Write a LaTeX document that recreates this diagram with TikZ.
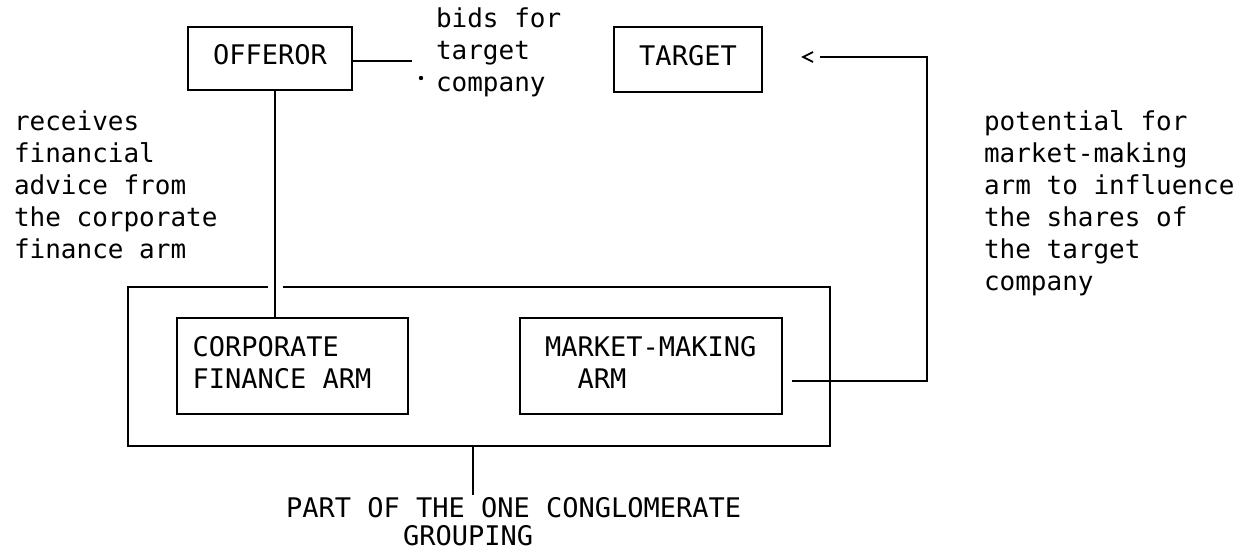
\documentclass[tikz,border=0pt]{standalone}
\usepackage{fontspec}
\newfontfamily\dotmono{DejaVu Sans Mono}[WordSpace={1,0,0}]
\begin{document}
\begin{tikzpicture}[x=1pt,y=-1pt,line width=2pt,
  lbl/.style={font=\dotmono\fontsize{26}{32}\selectfont},
  caps/.style={font=\dotmono\fontsize{27}{32}\selectfont},
  box/.style={caps,draw,inner sep=0pt,align=flush left,execute at begin node=\strut,execute at end node=\strut},
  frame/.style={draw,inner sep=0pt},
  blocktext/.style={lbl,inner sep=0pt,align=left,anchor=north west,execute at begin node=\strut}]
\useasboundingbox[fill=white] (0,0) rectangle (1249,551);

% boxes
\node[box,minimum width=164pt,minimum height=63pt] (offeror) at (270,58.5) {OFFEROR};
\node[box,minimum width=148pt,minimum height=65pt] (target) at (688,59.5) {TARGET};
\node[frame,minimum width=702pt,minimum height=159pt] (group) at (479,366.5) {};
\node[box,text width=200pt,minimum width=231pt,minimum height=96pt] (corp) at (292.5,366) {CORPORATE\\FINANCE ARM};
\node[box,text width=212pt,minimum width=262pt,minimum height=96pt] (mm) at (651,366) {MARKET-MAKING\\\hspace*{32.5pt}ARM};

% free texts
\node[blocktext] (bids) at (435,7) {bids for\\target\\company};
\node[blocktext] (advice) at (13,109.5) {receives\\financial\\advice from\\the corporate\\finance arm};
\node[blocktext] (potential) at (983,109.5) {potential for\\market-making\\arm to influence\\the shares of\\the target\\company};
\node[blocktext,font=\dotmono\fontsize{27}{28}\selectfont] (part) at (285,496.4) {PART OF THE ONE CONGLOMERATE\\\hspace*{117pt}GROUPING};

% coordinates
\coordinate (bidsEnd) at (412,61);
\coordinate (bidsDot) at (421,78);
\coordinate (offX) at (275,0);
\coordinate (mmOut) at (792,381);
\coordinate (rail) at (927,0);
\coordinate (arrEnd) at (820,57);
\coordinate (arrTip) at (803,57);
\coordinate (partTop) at (473,495);

% offeror -> bids
\draw (offeror.east |- bidsEnd) -- (bidsEnd);
\fill (bidsDot) circle (2.2pt);

% offeror -> corporate finance arm (with gap in group frame)
\draw[white,line width=3pt] ([xshift=-7pt]group.north -| offX) -- ([xshift=8pt]group.north -| offX);
\draw (offeror.south -| offX) -- (corp.north -| offX);

% market-making arm -> target
\draw (mmOut) -- (mmOut -| rail) -- (arrEnd -| rail) -- (arrEnd);
\draw[line width=1.8pt] ([shift={(10,-5)}]arrTip) -- (arrTip) -- ([shift={(10,5)}]arrTip);

% group -> label
\draw (group.south -| partTop) -- (partTop);
\end{tikzpicture}
\end{document}
